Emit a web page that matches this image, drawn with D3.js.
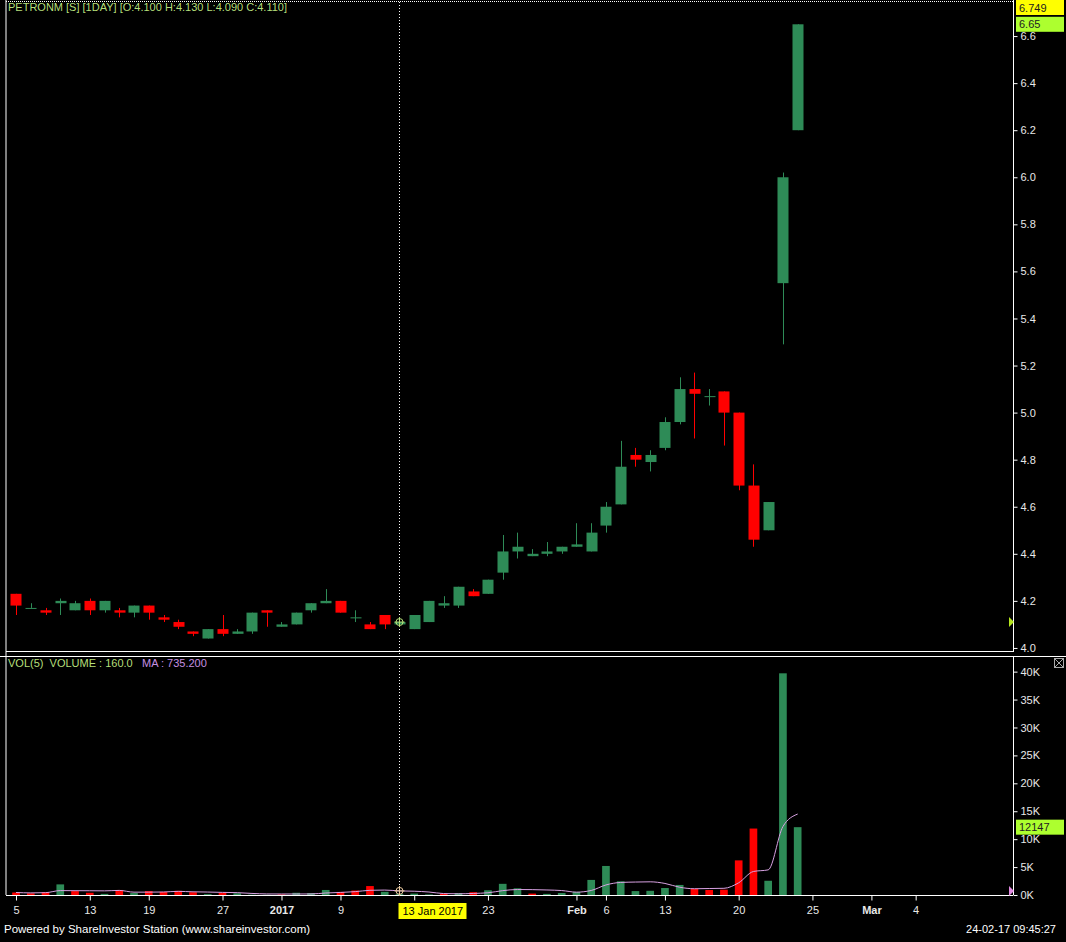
<!DOCTYPE html>
<html>
<head>
<meta charset="utf-8">
<script src="https://cdn.jsdelivr.net/npm/d3@7"></script>
<style>
  html, body { margin: 0; padding: 0; background: #000; }
  svg { display: block; font-family: "Liberation Sans", Arial, sans-serif; }
</style>
</head>
<body>
<div id="wrapper"></div>
<script>
// trading days shown (PETRONM, daily)
const dates = [
  "2016-12-05", "2016-12-06", "2016-12-07", "2016-12-08", "2016-12-09",
  "2016-12-13", "2016-12-14", "2016-12-15", "2016-12-16",
  "2016-12-19", "2016-12-20", "2016-12-21", "2016-12-22", "2016-12-23",
  "2016-12-27", "2016-12-28", "2016-12-29", "2016-12-30",
  "2017-01-03", "2017-01-04", "2017-01-05", "2017-01-06",
  "2017-01-09", "2017-01-10", "2017-01-11", "2017-01-12", "2017-01-13",
  "2017-01-16", "2017-01-17", "2017-01-18", "2017-01-19", "2017-01-20",
  "2017-01-23", "2017-01-24", "2017-01-25", "2017-01-26", "2017-01-27",
  "2017-01-31", "2017-02-02", "2017-02-03",
  "2017-02-06", "2017-02-07", "2017-02-08", "2017-02-10",
  "2017-02-13", "2017-02-14", "2017-02-15", "2017-02-16", "2017-02-17",
  "2017-02-20", "2017-02-21", "2017-02-22", "2017-02-23", "2017-02-24"
]
const opens = [
  4.23, 4.17, 4.16, 4.19, 4.16, 4.20, 4.16, 4.16, 4.15, 4.18,
  4.13, 4.11, 4.07, 4.04, 4.08, 4.06, 4.07, 4.16, 4.09, 4.10,
  4.16, 4.19, 4.20, 4.13, 4.10, 4.14, 4.10, 4.08, 4.11, 4.18,
  4.18, 4.24, 4.23, 4.32, 4.41, 4.39, 4.40, 4.41, 4.43, 4.41,
  4.52, 4.61, 4.82, 4.79, 4.85, 4.96, 5.10, 5.07, 5.09, 5.00,
  4.69, 4.50, 5.55, 6.20
]
const highs = [
  4.23, 4.19, 4.17, 4.21, 4.20, 4.21, 4.20, 4.17, 4.18, 4.18,
  4.14, 4.12, 4.07, 4.08, 4.14, 4.08, 4.15, 4.16, 4.11, 4.15,
  4.19, 4.25, 4.20, 4.16, 4.11, 4.14, 4.13, 4.14, 4.20, 4.22,
  4.26, 4.25, 4.29, 4.48, 4.49, 4.42, 4.45, 4.43, 4.53, 4.53,
  4.62, 4.88, 4.85, 4.84, 4.98, 5.15, 5.17, 5.10, 5.09, 5.00,
  4.78, 4.62, 6.02, 6.65
]
const lows = [
  4.14, 4.17, 4.14, 4.14, 4.16, 4.14, 4.15, 4.13, 4.13, 4.12,
  4.11, 4.08, 4.05, 4.04, 4.05, 4.06, 4.06, 4.09, 4.09, 4.10,
  4.15, 4.19, 4.15, 4.11, 4.08, 4.08, 4.09, 4.08, 4.11, 4.17,
  4.17, 4.22, 4.23, 4.29, 4.38, 4.39, 4.39, 4.40, 4.43, 4.41,
  4.49, 4.61, 4.77, 4.75, 4.84, 4.95, 4.89, 5.03, 4.86, 4.67,
  4.43, 4.50, 5.29, 6.20
]
const closes = [
  4.18, 4.17, 4.15, 4.20, 4.19, 4.16, 4.20, 4.15, 4.18, 4.15,
  4.12, 4.09, 4.06, 4.08, 4.06, 4.07, 4.15, 4.15, 4.10, 4.15,
  4.19, 4.20, 4.15, 4.13, 4.08, 4.10, 4.11, 4.14, 4.20, 4.19,
  4.26, 4.22, 4.29, 4.41, 4.43, 4.40, 4.41, 4.43, 4.44, 4.49,
  4.60, 4.77, 4.80, 4.82, 4.96, 5.10, 5.08, 5.07, 5.00, 4.69,
  4.46, 4.62, 6.00, 6.65
]
const volumes = [
  450, 300, 500, 1900, 700, 400, 200, 900, 350, 700,
  550, 750, 500, 150, 400, 300, 60, 40, 100, 400,
  350, 900, 550, 800, 1600, 566, 160, 250, 100, 200,
  350, 500, 850, 2000, 1200, 250, 200, 350, 550, 2700,
  5200, 2450, 700, 750, 1250, 1800, 1100, 900, 950, 6200,
  11900, 2550, 39700, 12147
]

// x axis labels ("16" sits under the cursor date box, so it shows no text)
const tickDates = [
  "2016-12-05", "2016-12-13", "2016-12-19", "2016-12-27", "2017-01-03",
  "2017-01-09", "2017-01-16", "2017-01-23", "2017-02-02", "2017-02-06",
  "2017-02-13", "2017-02-20", "2017-02-25", "2017-03-01", "2017-03-04"
]
const tickLabels = ["5", "13", "19", "27", "2017", "9", "", "23", "Feb", "6", "13", "20", "25", "Mar", "4"]
const boldLabels = ["2017", "Feb", "Mar"]

const priceTicks = [4.0, 4.2, 4.4, 4.6, 4.8, 5.0, 5.2, 5.4, 5.6, 5.8, 6.0, 6.2, 6.4, 6.6]
const volumeTicks = [0, 5000, 10000, 15000, 20000, 25000, 30000, 35000, 40000]

const symbol = "PETRONM"
const cursorDate = "2017-01-13"
const priceMax = 6.749
const stamp = "24-02-17 09:45:27"

function drawChart() {
  // 1. access data
  const parseDate = d3.timeParse("%Y-%m-%d")
  const candles = dates.map((d, i) => ({
    i,
    date: parseDate(d),
    open: opens[i],
    high: highs[i],
    low: lows[i],
    close: closes[i],
    volume: volumes[i]
  }))
  candles.forEach((d, i) => {
    d.ma = d3.mean(candles.slice(Math.max(0, i - 4), i + 1), c => c.volume)
    d.up = i == 0 ? d.close >= d.open : d.close >= candles[i - 1].close
  })
  // future dates run on calendar days after the last bar
  const lastDate = parseDate(dates[dates.length - 1])
  const dateIndex = s => {
    const k = dates.indexOf(s)
    if (k >= 0) return k
    return dates.length - 1 + d3.timeDay.count(lastDate, parseDate(s))
  }

  // 2. dimensions
  const dimensions = {
    width: 1066,
    height: 942,
    left: 6,
    axisX: 1013,
    priceTop: 1,
    priceBottom: 651,
    volTop: 656,
    volBottom: 895
  }

  const green = "#2e8b57"
  const red = "#ff0000"
  const axisColor = "#ffffff"
  const labelColor = "#e8e8e8"

  // 3. draw canvas
  const wrapper = d3.select("#wrapper")
    .append("svg")
      .attr("width", dimensions.width)
      .attr("height", dimensions.height)
      .style("background", "#000")

  // 4. scales
  const xScale = d3.scaleLinear()
    .domain([-0.68, 67.6])
    .range([dimensions.left, dimensions.axisX])
  const step = xScale(1) - xScale(0)

  const yPrice = d3.scaleLinear()
    .domain([3.987, priceMax])
    .range([dimensions.priceBottom, dimensions.priceTop])

  const yVol = d3.scaleLinear()
    .domain([0, 42800])
    .range([dimensions.volBottom, dimensions.volTop])

  // 5. frames
  const frame = wrapper.append("g")
    .attr("stroke", axisColor)
    .attr("fill", "none")
  frame.append("line")
    .attr("x1", dimensions.left).attr("x2", dimensions.left)
    .attr("y1", 0).attr("y2", dimensions.volBottom)
  frame.append("line")
    .attr("x1", dimensions.left).attr("x2", dimensions.axisX)
    .attr("y1", 1.5).attr("y2", 1.5)
    .style("stroke-dasharray", "1 1")
  frame.append("line")
    .attr("x1", dimensions.left).attr("x2", dimensions.axisX)
    .attr("y1", dimensions.priceBottom + 0.5).attr("y2", dimensions.priceBottom + 0.5)
  frame.append("line")
    .attr("x1", 0).attr("x2", dimensions.width)
    .attr("y1", dimensions.volTop + 0.5).attr("y2", dimensions.volTop + 0.5)

  // 6. candles
  const bodyWidth = step * 0.75
  const candleGroup = wrapper.append("g")
  const candleItems = candleGroup.selectAll("g")
    .data(candles)
    .join("g")
      .attr("fill", d => d.close >= d.open ? green : red)
      .attr("stroke", d => d.close >= d.open ? green : red)

  candleItems.append("line")
    .attr("x1", d => Math.round(xScale(d.i)) + 0.5)
    .attr("x2", d => Math.round(xScale(d.i)) + 0.5)
    .attr("y1", d => yPrice(d.high))
    .attr("y2", d => yPrice(d.low))
    .attr("stroke-width", 1)

  candleItems.append("rect")
    .attr("x", d => Math.round(xScale(d.i) - bodyWidth / 2) + 0.5)
    .attr("width", Math.round(bodyWidth))
    .attr("y", d => yPrice(Math.max(d.open, d.close)))
    .attr("height", d => Math.max(1, Math.abs(yPrice(d.open) - yPrice(d.close))))
    .attr("stroke", "none")

  // 7. volume bars + MA
  const barWidth = step * 0.52
  wrapper.append("g")
    .selectAll("rect")
    .data(candles)
    .join("rect")
      .attr("x", d => xScale(d.i) - barWidth / 2)
      .attr("width", barWidth)
      .attr("y", d => yVol(d.volume))
      .attr("height", d => yVol(0) - yVol(d.volume))
      .attr("fill", d => d.up ? green : red)

  const maLine = d3.line()
    .x(d => xScale(d.i))
    .y(d => yVol(d.ma))
    .curve(d3.curveMonotoneX)
  wrapper.append("path")
    .datum(candles)
    .attr("d", maLine)
    .attr("fill", "none")
    .attr("stroke", "#d9a2e3")
    .attr("stroke-width", 1)

  // 8. axes
  const styleAxis = g => {
    g.select(".domain").attr("stroke", axisColor)
    g.selectAll(".tick line").attr("stroke", axisColor)
    g.selectAll(".tick text")
      .attr("fill", labelColor)
      .style("font-size", "11px")
      .style("font-family", "'Liberation Sans', Arial, sans-serif")
  }

  const priceAxis = wrapper.append("g")
    .attr("transform", `translate(${dimensions.axisX + 0.5},0)`)
    .call(d3.axisRight(yPrice)
      .tickValues(priceTicks)
      .tickFormat(d3.format(".1f"))
      .tickSize(4)
      .tickPadding(3)
      .tickSizeOuter(0))
    .call(styleAxis)
  priceAxis.select(".domain")
    .attr("d", `M0,0V${dimensions.priceBottom + 1}`)

  const volAxis = wrapper.append("g")
    .attr("transform", `translate(${dimensions.axisX + 0.5},0)`)
    .call(d3.axisRight(yVol)
      .tickValues(volumeTicks)
      .tickFormat(d => d / 1000 + "K")
      .tickSize(4)
      .tickPadding(3)
      .tickSizeOuter(0))
    .call(styleAxis)
  volAxis.select(".domain")
    .attr("d", `M0,${dimensions.volTop}V${dimensions.volBottom}`)

  const tickIndex = tickDates.map(dateIndex)
  const xAxis = wrapper.append("g")
    .attr("transform", `translate(0,${dimensions.volBottom + 0.5})`)
    .call(d3.axisBottom(xScale)
      .tickValues(tickIndex)
      .tickFormat((d, k) => tickLabels[k])
      .tickSize(5)
      .tickPadding(6)
      .tickSizeOuter(0))
    .call(styleAxis)
  xAxis.select(".domain")
    .attr("d", `M${dimensions.left},0H${dimensions.axisX}`)
  xAxis.selectAll(".tick text")
    .style("font-weight", (d, k) => boldLabels.includes(tickLabels[k]) ? "bold" : "normal")

  // 9. crosshair
  const cursor = candles[dates.indexOf(cursorDate)]
  const cx = Math.round(xScale(cursor.i)) + 0.5
  wrapper.append("line")
    .attr("x1", cx).attr("x2", cx)
    .attr("y1", 2).attr("y2", dimensions.volBottom)
    .attr("stroke", "#ffffff")
    .style("stroke-dasharray", "1 2")

  const marker = (x, y, color) => {
    const g = wrapper.append("g").attr("stroke", color).attr("fill", "none")
    g.append("circle").attr("cx", x).attr("cy", y).attr("r", 3.5)
    g.append("line").attr("x1", x - 5).attr("x2", x + 5).attr("y1", y).attr("y2", y)
    g.append("line").attr("x1", x).attr("x2", x).attr("y1", y - 5).attr("y2", y + 5)
  }
  marker(cx, yPrice(cursor.close), "#b7e07a")
  marker(cx, yVol(cursor.ma), "#e8c9a0")

  const dateBox = wrapper.append("g")
    .attr("transform", `translate(${cx - 1},${dimensions.volBottom + 8})`)
  dateBox.append("rect")
    .attr("width", 68).attr("height", 16)
    .attr("fill", "#ffff00")
  dateBox.append("text")
    .attr("x", 4).attr("y", 12)
    .text(d3.timeFormat("%d %b %Y")(cursor.date))
    .attr("fill", "#000")
    .style("font-size", "11px")

  // right edge pointers at the cursor values
  const pointer = (y, color) => wrapper.append("path")
    .attr("d", `M${dimensions.axisX - 4},${y - 5}L${dimensions.axisX + 1},${y}L${dimensions.axisX - 4},${y + 5}Z`)
    .attr("fill", color)
  pointer(yPrice(cursor.close), "#b5e61d")
  pointer(yVol(cursor.volume) - 3, "#e08ae0")

  // 10. value tags on the axis
  const tag = (y, text, color) => {
    const g = wrapper.append("g")
      .attr("transform", `translate(${dimensions.axisX + 3},${Math.max(0, y - 7.5)})`)
    g.append("rect")
      .attr("width", 48).attr("height", 15)
      .attr("fill", color)
    g.append("text")
      .attr("x", 3).attr("y", 11.5)
      .text(text)
      .attr("fill", "#222")
      .style("font-size", "11px")
  }
  const last = candles[candles.length - 1]
  tag(yPrice(priceMax), d3.format(".3f")(priceMax), "#ffff00")
  tag(yPrice(last.close), String(last.close), "#adff2f")
  tag(yVol(last.volume), String(last.volume), "#adff2f")

  // close box of the volume pane
  const closeBox = wrapper.append("g")
    .attr("transform", `translate(${dimensions.width - 11.5},${dimensions.volTop + 2.5})`)
    .attr("stroke", "#aaa")
    .attr("fill", "none")
  closeBox.append("rect").attr("width", 9).attr("height", 9)
  closeBox.append("path").attr("d", "M0,0L9,9M9,0L0,9")

  // 11. texts
  const f3 = d3.format(".3f")
  wrapper.append("text")
    .attr("x", 8).attr("y", 11)
    .text(`${symbol} [S] [1DAY] [O:${f3(cursor.open)} H:${f3(cursor.high)} L:${f3(cursor.low)} C:${f3(cursor.close)}]`)
    .attr("fill", "#b5df7a")
    .style("font-size", "11px")

  const volHeader = wrapper.append("text")
    .attr("x", 8).attr("y", dimensions.volTop + 11)
    .style("font-size", "11px")
    .style("white-space", "pre")
  volHeader.append("tspan")
    .text(`VOL(5)  VOLUME : ${d3.format(".1f")(cursor.volume)}`)
    .attr("fill", "#b5df7a")
  volHeader.append("tspan")
    .attr("x", 142)
    .text(`MA : ${f3(cursor.ma)}`)
    .attr("fill", "#c58fe0")

  wrapper.append("text")
    .attr("x", 4).attr("y", 933)
    .text("Powered by ShareInvestor Station (www.shareinvestor.com)")
    .attr("fill", "#ffffff")
    .style("font-size", "11.5px")

  wrapper.append("text")
    .attr("x", 1056).attr("y", 933)
    .text(stamp)
    .attr("fill", "#ffffff")
    .style("text-anchor", "end")
    .style("font-size", "11px")
}

drawChart()
</script>
</body>
</html>
